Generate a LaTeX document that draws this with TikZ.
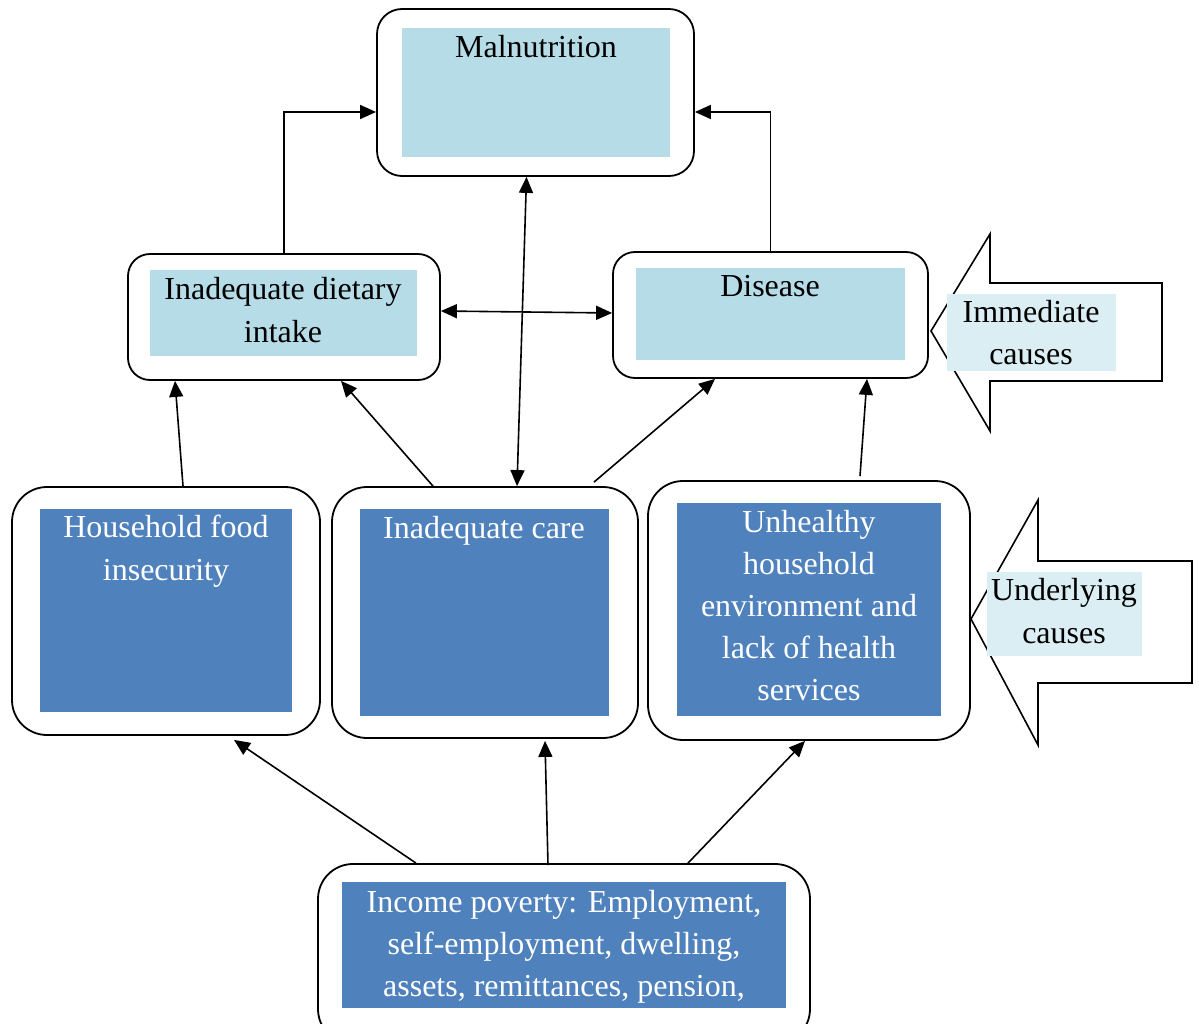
\documentclass[tikz,border=0pt]{standalone}
\usepackage{fontspec}
\setmainfont{Liberation Serif}
\usetikzlibrary{arrows.meta}
\definecolor{paleblue}{HTML}{B6DCE8}
\definecolor{midblue}{HTML}{4F81BD}
\definecolor{tagblue}{HTML}{DAEEF3}
\begin{document}
\begin{tikzpicture}[x=1pt,y=-1pt,
  outerbox/.style={draw, line width=1.8pt, rounded corners=#1, inner sep=0pt, fill=white},
  outerbox/.default=25pt,
  lightfill/.style={fill=paleblue, inner sep=0pt},
  darkfill/.style={fill=midblue, inner sep=0pt},
  tagfill/.style={fill=tagblue, inner sep=0pt},
  lbl/.style={anchor=base, inner sep=0pt, font=\fontsize{32}{42}\selectfont},
  wlbl/.style={lbl, text=white},
  arr/.style={line width=1.6pt, -{Triangle[length=16pt,width=14pt]}},
  darr/.style={line width=1.6pt, {Triangle[length=16pt,width=14pt]}-{Triangle[length=16pt,width=14pt]}},
  bigarrow/.style={draw, line width=1.6pt, fill=white}
]
\useasboundingbox (0,0) rectangle (1199,1024);

% ---------- outer rounded frames ----------
\node[outerbox, minimum width=317pt, minimum height=167pt] (maln) at (535.5,92.5) {};
\node[outerbox=22pt, minimum width=312pt, minimum height=126pt] (diet) at (284,317) {};
\node[outerbox=22pt, minimum width=315pt, minimum height=126pt] (dis) at (770.5,315) {};
\node[outerbox=35pt, minimum width=308pt, minimum height=248pt] (hh) at (166,611) {};
\node[outerbox=35pt, minimum width=306pt, minimum height=251pt] (care) at (485,612.5) {};
\node[outerbox=35pt, minimum width=322pt, minimum height=259pt] (unh) at (809,610.5) {};
\node[outerbox=35pt, minimum width=492pt, minimum height=180pt] (inc) at (564,954) {};

% ---------- coloured panels ----------
\node[lightfill, minimum width=268pt, minimum height=129pt] (malnIn) at (536,92.5) {};
\node[lightfill, minimum width=267pt, minimum height=86pt] (dietIn) at (283.5,313) {};
\node[lightfill, minimum width=269pt, minimum height=92pt] (disIn) at (770.5,314) {};
\node[darkfill, minimum width=252pt, minimum height=203pt] (hhIn) at (166,610.5) {};
\node[darkfill, minimum width=249pt, minimum height=207pt] (careIn) at (484.5,612.5) {};
\node[darkfill, minimum width=264pt, minimum height=213pt] (unhIn) at (809,609.5) {};
\node[darkfill, minimum width=444pt, minimum height=126pt] (incIn) at (564,945) {};

% ---------- texts ----------
\node[lbl] (tMaln) at (536,58) {Malnutrition};
\node[lbl] (tDiet1) at (283,300) {Inadequate dietary};
\node[lbl] (tDiet2) at (283,342) {intake};
\node[lbl] (tDis) at (770,297) {Disease};
\node[wlbl] (tHh1) at (166,537) {Household food};
\node[wlbl] (tHh2) at (166,580) {insecurity};
\node[wlbl] (tCare) at (484,538) {Inadequate care};
\node[wlbl] (tUnh1) at (809,532) {Unhealthy};
\node[wlbl] (tUnh2) at (809,574) {household};
\node[wlbl] (tUnh3) at (809,616) {environment and};
\node[wlbl] (tUnh4) at (809,658) {lack of health};
\node[wlbl] (tUnh5) at (809,700) {services};
\node[wlbl] (tInc1) at (564,912) {Income poverty: Employment,};
\node[wlbl] (tInc2) at (564,954) {self-employment, dwelling,};
\node[wlbl] (tInc3) at (564,996) {assets, remittances, pension,};

% ---------- connectors ----------
\draw[arr] (diet.north) |- ([yshift=-19.5pt]maln.west);
\draw[arr] (dis.north) |- ([yshift=-19.5pt]maln.east);
\draw[darr] ([yshift=6pt]diet.east) -- ([yshift=2pt]dis.west);
\draw[darr] ([xshift=-9pt]maln.south) -- ([xshift=32pt]care.north);
\draw[arr] ([xshift=17pt]hh.north) -- ([xshift=-109pt]diet.south);
\draw[arr] ([xshift=-52pt]care.north) -- ([xshift=57pt]diet.south);
\draw[arr] ([xshift=109pt,yshift=4pt]care.north) -- ([xshift=-55.5pt]dis.south);
\draw[arr] ([xshift=51pt,yshift=4pt]unh.north) -- ([xshift=96.5pt]dis.south);
\draw[arr] ([xshift=-148pt]inc.north) -- ([xshift=68pt,yshift=-4pt]hh.south);
\draw[arr] ([xshift=-16pt,yshift=-2pt]inc.north) -- ([xshift=60pt,yshift=-2pt]care.south);
\draw[arr] ([xshift=124pt]inc.north) -- ([xshift=-4pt]unh.south);

% ---------- side block arrows ----------
\draw[bigarrow] (931,331) -- (990,234) -- (990,283) -- (1162,283)
  -- (1162,381) -- (990,381) -- (990,431) -- cycle;
\node[tagfill, minimum width=169pt, minimum height=77pt] (immTag) at (1031.5,332.5) {};
\node[lbl] (tImm1) at (1031,322) {Immediate};
\node[lbl] (tImm2) at (1031,364) {causes};

\draw[bigarrow] (971,619) -- (1038,500) -- (1038,561) -- (1192,561)
  -- (1192,683) -- (1038,683) -- (1038,745) -- cycle;
\node[tagfill, minimum width=155pt, minimum height=84pt] (undTag) at (1064.5,614) {};
\node[lbl] (tUnd1) at (1064,600) {Underlying};
\node[lbl] (tUnd2) at (1064,643) {causes};
\end{tikzpicture}
\end{document}
